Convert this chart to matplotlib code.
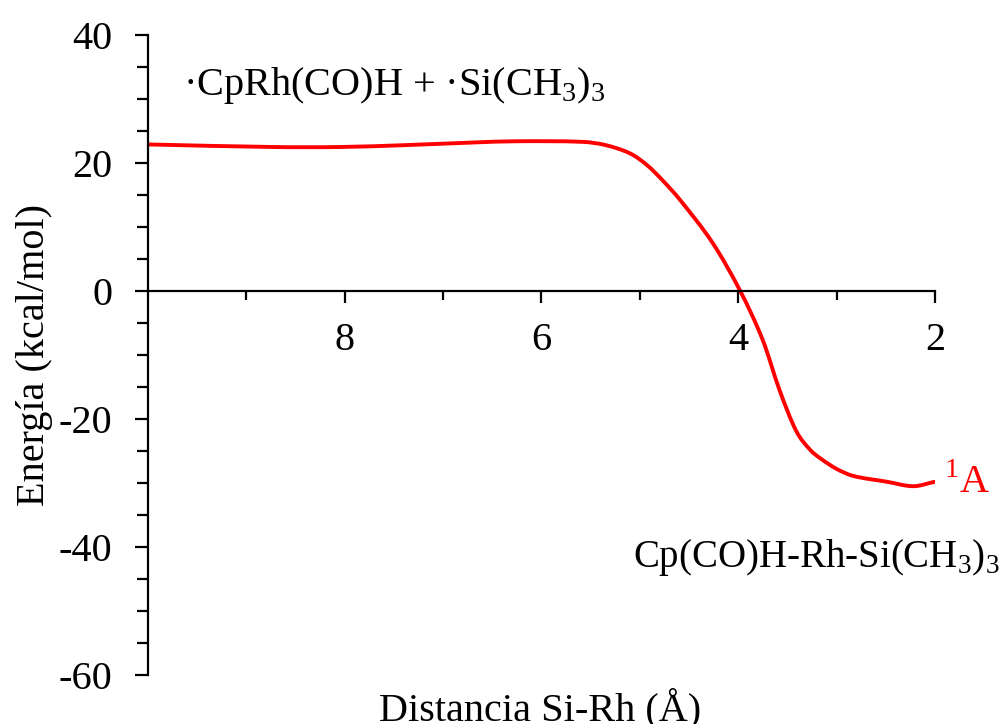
import numpy as np
import matplotlib
matplotlib.use('Agg')
import matplotlib.pyplot as plt
from matplotlib.path import Path
from matplotlib.patches import PathPatch
from matplotlib.ticker import MultipleLocator, FixedLocator

plt.rcParams['font.family'] = ['Liberation Serif', 'DejaVu Serif']
plt.rcParams['mathtext.fontset'] = 'custom'
plt.rcParams['mathtext.rm'] = 'Liberation Serif'
plt.rcParams['axes.unicode_minus'] = False

# curva de energía
distancia = [10.0, 8.73, 8.05, 7.37, 6.70, 6.25, 5.58, 5.35, 5.10, 4.93,
             4.77, 4.59, 4.26, 3.98, 3.75, 3.58, 3.41, 3.27, 3.17, 3.00,
             2.83, 2.49, 2.22, 2.0]
energia = [22.9, 22.5, 22.5, 22.8, 23.2, 23.4, 23.3, 22.8, 21.5, 19.7,
           17.3, 14.2, 7.5, 0.0, -7.7, -15.5, -21.9, -24.8, -26.1, -27.8,
           -28.9, -29.8, -30.5, -29.8]

x_ticks = [8, 6, 4, 2]
y_ticks = [-60, -40, -20, 0, 20, 40]

rojo = '#ff0000'
fs = 29


def curva_suave(x, y):
    # Hermite cúbico en x, dibujado como segmentos Bezier
    x = np.asarray(x, float)
    y = np.asarray(y, float)
    n = len(x)
    m = np.zeros(n)
    m[0] = (y[1] - y[0]) / (x[1] - x[0])
    m[-1] = (y[-1] - y[-2]) / (x[-1] - x[-2])
    for i in range(1, n - 1):
        m[i] = (y[i + 1] - y[i - 1]) / (x[i + 1] - x[i - 1])
    verts = [(x[0], y[0])]
    codes = [Path.MOVETO]
    for i in range(n - 1):
        h = x[i + 1] - x[i]
        verts += [(x[i] + h / 3, y[i] + m[i] * h / 3),
                  (x[i + 1] - h / 3, y[i + 1] - m[i + 1] * h / 3),
                  (x[i + 1], y[i + 1])]
        codes += [Path.CURVE4] * 3
    return Path(verts, codes)


fig = plt.figure(figsize=(10.07, 7.24), dpi=100)
ax = fig.add_axes([148 / 1007, 1 - 675 / 724, (935 - 148) / 1007, 640 / 724])

patch = PathPatch(curva_suave(distancia, energia), facecolor='none',
                  edgecolor=rojo, lw=2.8, capstyle='round')
ax.add_patch(patch)

ax.set_xlim(10, 2)
ax.set_ylim(-60, 40)

ax.spines['top'].set_visible(False)
ax.spines['right'].set_visible(False)
ax.spines['bottom'].set_position(('data', 0))
for s in ['left', 'bottom']:
    ax.spines[s].set_linewidth(1.6)

ax.xaxis.set_major_locator(FixedLocator(x_ticks))
ax.xaxis.set_minor_locator(FixedLocator([9, 7, 5, 3]))
ax.yaxis.set_major_locator(FixedLocator(y_ticks))
ax.yaxis.set_minor_locator(MultipleLocator(5))

ax.tick_params(axis='x', which='major', direction='out', length=8.5, width=1.6,
               pad=14, labelsize=fs)
ax.tick_params(axis='x', which='minor', direction='out', length=6.5, width=1.6)
ax.tick_params(axis='y', which='major', direction='out', length=9.5, width=1.6,
               pad=16, labelsize=fs)
ax.tick_params(axis='y', which='minor', direction='out', length=8, width=1.6)

ax.text(183 / 1007, 1 - 95 / 724,
        '·CpRh(CO)H + ·Si(CH$_\\mathrm{3}$)$_\\mathrm{3}$',
        transform=fig.transFigure, fontsize=fs, ha='left', va='baseline')
ax.text(633 / 1007, 1 - 567 / 724,
        'Cp(CO)H-Rh-Si(CH$_\\mathrm{3}$)$_\\mathrm{3}$',
        transform=fig.transFigure, fontsize=28, ha='left', va='baseline')
ax.text(944 / 1007, 1 - 493 / 724, '$^\\mathrm{1}$A', color=rojo,
        transform=fig.transFigure, fontsize=fs, ha='left', va='baseline')

fig.text(35 / 1007, 1 - 355 / 724, 'Energía (kcal/mol)', rotation=90,
         fontsize=fs, ha='center', va='center')
fig.text(540 / 1007, 4 / 724, 'Distancia Si-Rh (Å)', fontsize=fs,
         ha='center', va='baseline')

fig.savefig('out.png', dpi=100)
